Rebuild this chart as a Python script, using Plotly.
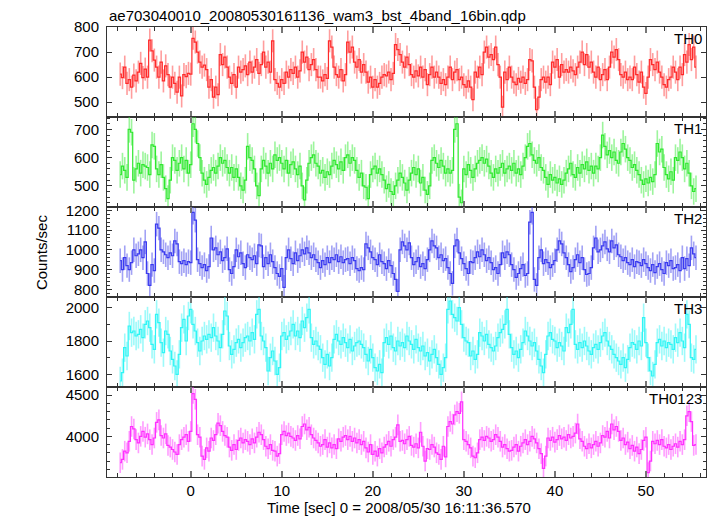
import plotly.graph_objects as go
from plotly.subplots import make_subplots

t_start = -7.75
bin_width = 0.25

th0 = [
    612, 598, 640, 575, 590, 560, 608, 585, 620, 655, 598, 632, 600, 748, 705, 668,
    640, 600, 660, 585, 645, 610, 560, 600, 575, 540, 600, 525, 610, 602, 615, 612,
    755, 740, 700, 660, 640, 648, 630, 560, 590, 520, 560, 530, 690, 650, 680, 640,
    600, 575, 610, 560, 640, 620, 630, 645, 610, 660, 620, 640, 670, 615, 650, 700,
    640, 660, 620, 745, 590, 575, 560, 590, 575, 620, 600, 630, 615, 640, 600, 625,
    700, 660, 680, 630, 650, 670, 630, 600, 600, 585, 610, 595, 745, 720, 640, 610,
    600, 630, 585, 610, 740, 700, 720, 660, 640, 670, 620, 650, 620, 580, 600, 560,
    590, 560, 575, 600, 610, 605, 620, 590, 615, 730, 710, 690, 660, 640, 680, 650,
    610, 600, 625, 605, 640, 600, 630, 570, 610, 640, 600, 620, 600, 575, 590, 570,
    600, 640, 590, 620, 630, 590, 600, 570, 560, 585, 560, 510, 620, 600, 640, 610,
    700, 720, 680, 690, 670, 720, 650, 600, 480, 620, 590, 640, 600, 580, 570, 595,
    580, 600, 575, 590, 670, 665, 560, 470, 520, 590, 600, 580, 600, 570, 660, 640,
    670, 600, 650, 620, 630, 620, 640, 625, 610, 640, 660, 700, 650, 690, 640, 660,
    620, 600, 640, 590, 610, 630, 590, 640, 700, 680, 710, 670, 610, 600, 620, 590,
    600, 590, 640, 610, 580, 620, 560, 535, 600, 670, 650, 630, 660, 620, 600, 570,
    560, 590, 600, 640, 620, 590, 640, 610, 690, 660, 730, 670, 720, 640,
]

th1 = [
    540, 570, 555, 530, 700, 690, 520, 560, 580, 545, 575, 570, 565, 540, 645, 640,
    560, 540, 575, 530, 490, 455, 520, 600, 590, 555, 580, 600, 560, 590, 545, 575,
    720, 700, 650, 600, 545, 520, 505, 530, 555, 565, 545, 570, 600, 580, 590, 565,
    545, 565, 530, 560, 530, 500, 485, 520, 640, 600, 590, 560, 500, 465, 560, 590,
    570, 545, 580, 560, 610, 590, 600, 580, 560, 590, 545, 575, 585, 560, 540, 570,
    500, 450, 520, 580, 600, 610, 580, 570, 545, 555, 530, 550, 540, 570, 590, 575,
    560, 585, 555, 600, 610, 580, 600, 590, 555, 530, 545, 500, 495, 455, 540, 560,
    570, 545, 560, 540, 520, 490, 505, 480, 470, 500, 520, 545, 530, 510, 485, 520,
    545, 565, 540, 560, 510, 530, 485, 470, 500, 590, 600, 580, 565, 590, 570, 545,
    560, 545, 555, 700, 720, 460, 440, 560, 540, 575, 555, 530, 560, 580, 590, 600,
    580, 595, 570, 545, 530, 560, 545, 565, 580, 545, 560, 570, 555, 580, 545, 560,
    540, 570, 600, 640, 650, 610, 590, 580, 600, 565, 555, 530, 505, 540, 520, 530,
    510, 525, 505, 520, 545, 560, 580, 540, 530, 565, 545, 575, 560, 585, 555, 570,
    545, 570, 560, 600, 680, 640, 610, 625, 600, 620, 590, 580, 620, 650, 630, 600,
    590, 565, 575, 555, 540, 520, 505, 525, 510, 530, 515, 540, 650, 620, 630, 565,
    540, 525, 550, 520, 600, 590, 620, 600, 560, 580, 545, 500, 480, 490,
]

th2 = [
    945, 900, 960, 920, 900, 935, 1000, 970, 980, 1000, 960, 1040, 880, 820, 925, 895,
    1130, 1110, 1000, 990, 975, 960, 985, 970, 1045, 1030, 940, 930, 945, 925, 940, 935,
    1190, 1150, 950, 930, 910, 925, 895, 915, 1060, 1000, 1010, 975, 990, 945, 960, 1005,
    900, 880, 915, 1000, 965, 985, 930, 910, 975, 960, 950, 970, 930, 1025, 1020, 915,
    960, 930, 975, 940, 910, 880, 865, 905, 810, 960, 1000, 955, 930, 985, 945, 970,
    1000, 980, 1010, 985, 960, 975, 950, 935, 910, 945, 925, 960, 935, 960, 950, 975,
    940, 965, 935, 950, 955, 930, 960, 945, 905, 895, 910, 900, 1030, 1010, 990, 960,
    950, 925, 975, 940, 930, 905, 945, 920, 880, 850, 790, 1000, 1040, 1020, 1000, 1035,
    960, 925, 940, 960, 915, 930, 905, 950, 1000, 1045, 1020, 1010, 960, 975, 945, 955,
    910, 880, 830, 1020, 1050, 985, 955, 930, 905, 880, 940, 935, 960, 990, 965, 1000,
    975, 945, 960, 935, 900, 910, 880, 925, 985, 960, 990, 975, 925, 900, 860, 880,
    905, 925, 870, 880, 1140, 1190, 850, 820, 960, 1000, 930, 950, 935, 910, 925, 945,
    1000, 1045, 1030, 985, 960, 925, 890, 910, 950, 975, 935, 960, 900, 875, 880, 910,
    1010, 1060, 990, 1000, 1020, 1040, 1005, 990, 1045, 1010, 1025, 975, 965, 945, 960, 935,
    925, 950, 915, 940, 935, 920, 950, 930, 910, 895, 925, 885, 915, 930, 900, 880,
    935, 920, 945, 905, 910, 925, 895, 960, 905, 955, 920, 1010, 980, 960,
]

th3 = [
    1560, 1610, 1760, 1710, 1890, 1850, 1860, 1830, 1840, 1870, 1820, 1900, 1920, 1880, 1780, 1750,
    1960, 1910, 1790, 1730, 1860, 1840, 1740, 1690, 1650, 1600, 1720, 1880, 1930, 1800, 1950, 1990,
    1900, 1860, 1790, 1740, 1800, 1830, 1810, 1840, 1820, 1880, 1830, 1800, 1760, 1840, 1980, 1950,
    1770, 1720, 1750, 1790, 1810, 1760, 1790, 1820, 1830, 1800, 1850, 1810, 1960, 1990, 1830, 1800,
    1760, 1620, 1700, 1740, 1680, 1600, 1640, 1830, 1850, 1810, 1830, 1860, 1900, 1830, 1860, 1820,
    1920, 1880, 1940, 1990, 1820, 1780, 1800, 1770, 1750, 1700, 1660, 1720, 1650, 1700, 1810, 1840,
    1800, 1780, 1820, 1790, 1760, 1810, 1740, 1770, 1790, 1800, 1780, 1760, 1720, 1680, 1750, 1700,
    1640, 1620, 1660, 1610, 1790, 1820, 1780, 1830, 1760, 1740, 1800, 1770, 1790, 1760, 1830, 1800,
    1780, 1750, 1810, 1760, 1740, 1770, 1710, 1730, 1680, 1720, 1750, 1700, 1660, 1600, 1640, 1700,
    1990, 2040, 1960, 1940, 1920, 2000, 1900, 1820, 1800, 1790, 1710, 1740, 1690, 1720, 1850, 1830,
    1800, 1840, 1780, 1760, 1740, 1770, 1820, 1850, 1870, 1900, 1990, 1840, 1760, 1720, 1740, 1700,
    1750, 1790, 1860, 1830, 1800, 1770, 1790, 1740, 1690, 1650, 1610, 1720, 1830, 1850, 1810, 1800,
    1760, 1790, 1770, 1740, 1880, 1850, 1900, 1990, 1780, 1750, 1790, 1760, 1800, 1770, 1740, 1720,
    1760, 1780, 1750, 1790, 1830, 1850, 1800, 1770, 1750, 1720, 1700, 1680, 1660, 1700, 1640, 1690,
    1760, 1790, 1780, 1750, 1800, 1770, 1940, 1790, 1700, 1620, 1590, 1660, 1790, 1810, 1770, 1800,
    1760, 1790, 1780, 1750, 1820, 1790, 1850, 1800, 1760, 1960, 1900, 1700, 1690, 1750,
]

th0123 = [
    3680, 3720, 3820, 3800, 3940, 4120, 4090, 3960, 3920, 4000, 4060, 3990, 4030, 3960, 3900, 3980,
    4170, 4200, 4010, 3980, 4030, 3890, 3870, 3840, 3810, 3780, 3900, 3960, 3990, 4020, 3940, 4060,
    4520, 4450, 4020, 3990, 3760, 3720, 3860, 3820, 3980, 3950, 4020, 4160, 4130, 4060, 4010, 3990,
    3870, 3830, 3900, 3840, 3950, 3980, 3920, 3960, 3940, 3900, 3970, 3920, 3990, 4050, 4020, 3960,
    3880, 3850, 3900, 3830, 3820, 3760, 3790, 4020, 4060, 4010, 4040, 4000, 3980, 3950, 4010, 3970,
    4120, 4150, 4080, 4110, 4020, 3980, 3950, 3920, 3880, 3900, 3960, 3870, 3920, 3860, 3900, 3850,
    3970, 3940, 3990, 4010, 3960, 4000, 3940, 3980, 3920, 3960, 3900, 3940, 3860, 3810, 3900, 3780,
    3820, 3760, 3850, 3800, 3870, 3900, 3940, 3880, 3960, 3990, 4140, 3940, 3950, 3910, 3960, 4000,
    3890, 3870, 3910, 3860, 4050, 3880, 3700, 3850, 3840, 3900, 3870, 3800, 3780, 3720, 3880, 3750,
    4120, 4180, 4150, 4260, 4300, 4280, 4420, 3960, 3940, 3900, 3860, 3760, 3740, 3800, 3960, 3990,
    3950, 4000, 3980, 3940, 3960, 4020, 3990, 3940, 3870, 3900, 3850, 3820, 3830, 3870, 3900, 3820,
    3880, 3920, 3960, 3900, 3940, 4000, 3970, 3920, 3850, 3790, 3610, 3760, 3980, 3950, 3990, 3930,
    3960, 4010, 3970, 3990, 3950, 4020, 3980, 4000, 4040, 4150, 3970, 3940, 3880, 3850, 3910, 3860,
    3900, 3940, 3880, 3920, 4010, 3990, 4060, 3980, 4150, 4080, 4120, 4060, 3950, 3980, 3900, 3930,
    3850, 3890, 3820, 3870, 3790, 3840, 3950, 3990, 3560, 3700, 3940, 3910, 3950, 3900, 3960, 3880,
    3860, 3900, 3840, 3880, 3910, 3870, 3940, 3900, 3960, 4250, 4300, 4180, 3890, 3900,
]

names = ["TH0", "TH1", "TH2", "TH3", "TH0123"]
series = [th0, th1, th2, th3, th0123]
errors = [46, 47, 62, 85, 125]
line_colors = ["#ff2a2a", "#2ee82e", "#3a3af0", "#2ef5f5", "#ff2eff"]
err_colors = ["rgba(255,60,60,0.5)", "rgba(60,235,60,0.5)", "rgba(70,70,235,0.5)",
              "rgba(60,245,245,0.5)", "rgba(255,60,255,0.5)"]
y_ranges = [[441, 800], [425, 744], [761, 1217], [1524, 2064], [3506, 4600]]
y_dticks = [100, 100, 100, 200, 500]
y_minor = [None, 20, 20, 100, 100]

title_text = "ae703040010_20080530161136_wam3_bst_4band_16bin.qdp"
x_title = "Time [sec] 0 = 2008/05/30 16:11:36.570"
y_title = "Counts/sec"

FONT = "Liberation Sans, Arial, Helvetica, sans-serif"

fig = make_subplots(rows=5, cols=1, shared_xaxes=True, vertical_spacing=0)

for i, (vals, err, lc, ec) in enumerate(zip(series, errors, line_colors, err_colors)):
    times = [t_start + k * bin_width for k in range(len(vals))]
    fig.add_trace(go.Scatter(
        x=times, y=vals, mode="lines",
        line=dict(color=lc, width=1.2, shape="hvh"),
        error_y=dict(type="constant", value=err, color=ec, thickness=1.6, width=0),
        showlegend=False, hoverinfo="skip",
    ), row=i + 1, col=1)

axis_color = "#333333"
for i in range(5):
    fig.update_xaxes(
        row=i + 1, col=1,
        range=[-9.2, 56.6], tick0=0, dtick=10, automargin=False,
        showline=True, linecolor=axis_color, linewidth=1, mirror="ticks",
        ticks="inside", ticklen=6, tickwidth=1.5, tickcolor="#777777",
        minor=dict(dtick=2, tick0=0, ticks="inside", ticklen=4, tickwidth=1,
                   tickcolor=axis_color, showgrid=False),
        showgrid=False, zeroline=False,
        showticklabels=(i == 4),
        tickfont=dict(family=FONT, size=15, color="black"),
    )
    yargs = dict(
        range=y_ranges[i], tick0=0, dtick=y_dticks[i], automargin=False,
        showline=True, linecolor=axis_color, linewidth=1, mirror="ticks",
        ticks="inside", ticklen=5, tickwidth=1, tickcolor=axis_color,
        showgrid=False, zeroline=False,
        tickfont=dict(family=FONT, size=15, color="black"),
        ticklabelstandoff=4,
    )
    if y_minor[i]:
        yargs["minor"] = dict(dtick=y_minor[i], ticks="inside", ticklen=3,
                              tickwidth=1, tickcolor=axis_color, showgrid=False)
    fig.update_yaxes(row=i + 1, col=1, **yargs)

annotations = []
for i, nm in enumerate(names):
    suffix = "" if i == 0 else str(i + 1)
    annotations.append(dict(
        text=nm, xref=f"x{suffix} domain", yref=f"y{suffix} domain",
        x=1, y=1, xanchor="right", yanchor="top", xshift=-2, yshift=-1,
        showarrow=False, font=dict(family=FONT, size=15, color="black"),
    ))
annotations.append(dict(
    text=title_text, xref="paper", yref="paper", x=0, y=1.025,
    xanchor="left", yanchor="middle", showarrow=False,
    font=dict(family=FONT, size=15, color="black"),
))
annotations.append(dict(
    text=x_title, xref="paper", yref="paper", x=0.487, y=-0.067,
    xanchor="center", yanchor="middle", showarrow=False,
    font=dict(family=FONT, size=15, color="black"),
))
annotations.append(dict(
    text=y_title, xref="paper", yref="paper", x=-0.110, y=0.5,
    xanchor="center", yanchor="middle", textangle=-90, showarrow=False,
    font=dict(family=FONT, size=15, color="black"),
))

# the page body adds an 8 px offset at the top-left, so the figure is 8 px smaller
fig.update_layout(
    template="none",
    width=709, height=508,
    margin=dict(l=99, r=11, t=19, b=39, autoexpand=False),
    paper_bgcolor="white", plot_bgcolor="white",
    font=dict(family=FONT, size=15, color="black"),
    annotations=annotations,
    showlegend=False,
)

fig.write_html("out.html")
